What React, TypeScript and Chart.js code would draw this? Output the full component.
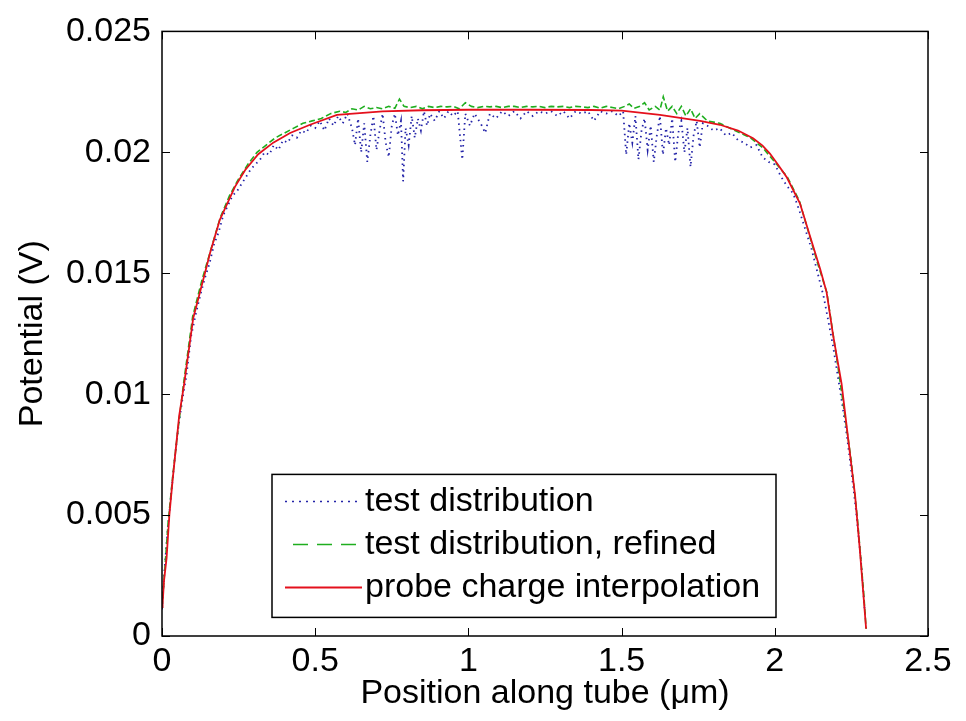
import { useEffect, useRef } from 'react';
import { Chart, registerables } from 'chart.js';

Chart.register(...registerables);

const FONT = '"Liberation Sans", Arial, Helvetica, sans-serif';

const xTickValues = [0, 0.5, 1, 1.5, 2, 2.5];
const xTickLabels = ['0', '0.5', '1', '1.5', '2', '2.5'];
const yTickValues = [0, 0.005, 0.01, 0.015, 0.02, 0.025];
const yTickLabels = ['0', '0.005', '0.01', '0.015', '0.02', '0.025'];

const seriesNames = ['test distribution', 'test distribution, refined', 'probe charge interpolation'];
const xAxisTitle = 'Position along tube (\u03BCm)';
const yAxisTitle = 'Potential (V)';

// probe charge interpolation (red)
const probeX = [0.000, 0.002, 0.0065, 0.015, 0.024, 0.035, 0.046, 0.056, 0.072, 0.102, 0.140, 0.157, 0.189, 0.238, 0.271, 0.314, 0.363, 0.418, 0.483, 0.571, 0.72, 0.85, 1.0, 1.2, 1.4, 1.50, 1.625, 1.756, 1.821, 1.880, 1.929, 1.960, 1.984, 2.010, 2.039, 2.082, 2.115, 2.148, 2.169, 2.190, 2.218, 2.245, 2.262, 2.278, 2.298];
const probeY = [0.00120, 0.00134, 0.00228, 0.00323, 0.0050, 0.0065, 0.00785, 0.0091, 0.0104, 0.01315, 0.0150, 0.01585, 0.01722, 0.01857, 0.01926, 0.01992, 0.0204, 0.0208, 0.02114, 0.02155, 0.02169, 0.02174, 0.02176, 0.02176, 0.02175, 0.02172, 0.02155, 0.02130, 0.02114, 0.02090, 0.02058, 0.02028, 0.01995, 0.01950, 0.01897, 0.01789, 0.01653, 0.01518, 0.01422, 0.01246, 0.01042, 0.00757, 0.00582, 0.0035, 0.0003];

// test distribution, refined (green)
const refinedX = [0.000, 0.010, 0.020, 0.035, 0.050, 0.070, 0.100, 0.130, 0.160, 0.190, 0.220, 0.250, 0.280, 0.310, 0.340, 0.370, 0.400, 0.430, 0.460, 0.490, 0.520, 0.550, 0.580, 0.600, 0.620, 0.640, 0.660, 0.680, 0.700, 0.720, 0.740, 0.760, 0.775, 0.790, 0.810, 0.830, 0.850, 0.870, 0.890, 0.910, 0.930, 0.950, 0.970, 0.990, 1.010, 1.030, 1.050, 1.070, 1.090, 1.110, 1.130, 1.150, 1.170, 1.190, 1.210, 1.230, 1.250, 1.270, 1.290, 1.310, 1.330, 1.350, 1.370, 1.390, 1.410, 1.430, 1.450, 1.470, 1.490, 1.510, 1.525, 1.540, 1.560, 1.575, 1.590, 1.610, 1.625, 1.636, 1.650, 1.665, 1.680, 1.695, 1.710, 1.725, 1.740, 1.755, 1.780, 1.820, 1.870, 1.920, 1.960, 2.000, 2.040, 2.080, 2.110, 2.140, 2.170, 2.190, 2.210, 2.230, 2.250, 2.270, 2.290, 2.298];
const refinedY = [0.0012, 0.0029, 0.0047, 0.0066, 0.0083, 0.0104, 0.0132, 0.0147, 0.0160, 0.0173, 0.0182, 0.0189, 0.0195, 0.0200, 0.0203, 0.0206, 0.0208, 0.0210, 0.0212, 0.0213, 0.0214, 0.0216, 0.0217, 0.02165, 0.0218, 0.02175, 0.0219, 0.0218, 0.02185, 0.0218, 0.0219, 0.02182, 0.0222, 0.0219, 0.02185, 0.0219, 0.0218, 0.0219, 0.02185, 0.0219, 0.02188, 0.0219, 0.0218, 0.02205, 0.0219, 0.02185, 0.0219, 0.02188, 0.0219, 0.02185, 0.0219, 0.0219, 0.02185, 0.0219, 0.02188, 0.0219, 0.02185, 0.0219, 0.02188, 0.0219, 0.02185, 0.0219, 0.02188, 0.02185, 0.0219, 0.02182, 0.0219, 0.02185, 0.0218, 0.0219, 0.0220, 0.02182, 0.0219, 0.02205, 0.02175, 0.0219, 0.02175, 0.0223, 0.0217, 0.0219, 0.0216, 0.0219, 0.0215, 0.0218, 0.0214, 0.0216, 0.0213, 0.0212, 0.0209, 0.0206, 0.0202, 0.0196, 0.0190, 0.0180, 0.0167, 0.0154, 0.0142, 0.0125, 0.0108, 0.0090, 0.0072, 0.0048, 0.0018, 0.0003];

// test distribution (blue, dotted)
const testX = [0.000, 0.008, 0.018, 0.030, 0.042, 0.055, 0.068, 0.080, 0.095, 0.110, 0.125, 0.140, 0.155, 0.170, 0.185, 0.200, 0.215, 0.230, 0.245, 0.260, 0.275, 0.290, 0.305, 0.320, 0.335, 0.350, 0.365, 0.380, 0.395, 0.410, 0.425, 0.440, 0.455, 0.470, 0.485, 0.500, 0.515, 0.530, 0.545, 0.560, 0.575, 0.590, 0.605, 0.620, 0.630, 0.640, 0.650, 0.660, 0.670, 0.680, 0.690, 0.700, 0.710, 0.720, 0.730, 0.740, 0.750, 0.760, 0.770, 0.780, 0.787, 0.795, 0.805, 0.815, 0.825, 0.835, 0.845, 0.855, 0.865, 0.875, 0.890, 0.905, 0.920, 0.935, 0.950, 0.965, 0.980, 0.990, 1.005, 1.020, 1.040, 1.055, 1.070, 1.090, 1.110, 1.130, 1.150, 1.170, 1.190, 1.210, 1.230, 1.250, 1.270, 1.290, 1.310, 1.330, 1.350, 1.370, 1.390, 1.410, 1.430, 1.450, 1.470, 1.490, 1.505, 1.515, 1.525, 1.535, 1.545, 1.555, 1.565, 1.575, 1.585, 1.595, 1.605, 1.615, 1.625, 1.635, 1.645, 1.655, 1.665, 1.675, 1.685, 1.695, 1.705, 1.715, 1.725, 1.735, 1.745, 1.755, 1.765, 1.780, 1.800, 1.820, 1.840, 1.860, 1.880, 1.900, 1.920, 1.940, 1.960, 1.980, 2.000, 2.020, 2.040, 2.060, 2.080, 2.100, 2.120, 2.140, 2.160, 2.175, 2.190, 2.205, 2.220, 2.235, 2.250, 2.265, 2.280, 2.295];
const testY = [0.0011, 0.0027, 0.0043, 0.0059, 0.0074, 0.0088, 0.0099, 0.0108, 0.0124, 0.0133, 0.0141, 0.0148, 0.0154, 0.0162, 0.0167, 0.0174, 0.0178, 0.0182, 0.0184, 0.0187, 0.0190, 0.0193, 0.0195, 0.0197, 0.0200, 0.0199, 0.0203, 0.0201, 0.0205, 0.0204, 0.0207, 0.0206, 0.0209, 0.0208, 0.0211, 0.0210, 0.0213, 0.0209, 0.0214, 0.0211, 0.0215, 0.0212, 0.0216, 0.0210, 0.0203, 0.0214, 0.0200, 0.0212, 0.0196, 0.0207, 0.0215, 0.0201, 0.0209, 0.0216, 0.0204, 0.0198, 0.0211, 0.0216, 0.0207, 0.0213, 0.0188, 0.0210, 0.0203, 0.0215, 0.0206, 0.0214, 0.0209, 0.0217, 0.0211, 0.0216, 0.0213, 0.0217, 0.0214, 0.0217, 0.0215, 0.0217, 0.0197, 0.0216, 0.0211, 0.0216, 0.0212, 0.0208, 0.0216, 0.0214, 0.0217, 0.0215, 0.0217, 0.0214, 0.0217, 0.0215, 0.0217, 0.0216, 0.0217, 0.0215, 0.0217, 0.0214, 0.0217, 0.0216, 0.0217, 0.0213, 0.0217, 0.0216, 0.0217, 0.0215, 0.0217, 0.0199, 0.0212, 0.0204, 0.0215, 0.0197, 0.0209, 0.0214, 0.0201, 0.0211, 0.0196, 0.0207, 0.0215, 0.0199, 0.0210, 0.0203, 0.0214, 0.0196, 0.0208, 0.0213, 0.0200, 0.0210, 0.0194, 0.0207, 0.0213, 0.0202, 0.0212, 0.0211, 0.0209, 0.0210, 0.0207, 0.0208, 0.0205, 0.0204, 0.0202, 0.0203, 0.0198, 0.0196, 0.0195, 0.0190, 0.0186, 0.0183, 0.0176, 0.0168, 0.0160, 0.0150, 0.0140, 0.0130, 0.0120, 0.0108, 0.0096, 0.0083, 0.0068, 0.0052, 0.0033, 0.0008];

const BLUE = '#2323a8';
const GREEN = '#1fae1f';
const RED = '#e4101c';

const toPoints = (xs: number[], ys: number[]) => xs.map((x, i) => ({ x, y: ys[i] }));

const frameAndTicks = {
  id: 'frameAndTicks',
  afterDatasetsDraw(chart: any) {
    const { ctx, chartArea: ca, scales } = chart;
    const len = 8;
    ctx.save();
    ctx.strokeStyle = '#000';
    ctx.lineWidth = 1;
    ctx.beginPath();
    xTickValues.forEach((v) => {
      const px = Math.round(scales.x.getPixelForValue(v)) + 0.5;
      ctx.moveTo(px, ca.bottom);
      ctx.lineTo(px, ca.bottom - len);
      ctx.moveTo(px, ca.top);
      ctx.lineTo(px, ca.top + len);
    });
    yTickValues.forEach((v) => {
      const py = Math.round(scales.y.getPixelForValue(v)) + 0.5;
      ctx.moveTo(ca.left, py);
      ctx.lineTo(ca.left + len, py);
      ctx.moveTo(ca.right, py);
      ctx.lineTo(ca.right - len, py);
    });
    ctx.stroke();
    ctx.lineWidth = 1.5;
    ctx.strokeRect(ca.left, ca.top, ca.right - ca.left, ca.bottom - ca.top);
    ctx.restore();
  },
};

const boxLegend = {
  id: 'boxLegend',
  afterDraw(chart: any) {
    const { ctx, chartArea: ca } = chart;
    const bx = ca.left + 110;
    const by = ca.top + 443;
    const bw = 504;
    const bh = 143;
    ctx.save();
    ctx.fillStyle = '#fff';
    ctx.fillRect(bx, by, bw, bh);
    ctx.strokeStyle = '#000';
    ctx.lineWidth = 1.5;
    ctx.strokeRect(bx, by, bw, bh);
    const rows = [
      { color: BLUE, dash: [2, 5], x0: bx + 13, y: by + 27, w: 1.5 },
      { color: GREEN, dash: [15, 9], x0: bx + 21, y: by + 70, w: 1.5 },
      { color: RED, dash: [], x0: bx + 13, y: by + 113, w: 2 },
    ];
    rows.forEach((r, i) => {
      ctx.beginPath();
      ctx.setLineDash(r.dash);
      ctx.strokeStyle = r.color;
      ctx.lineWidth = r.w;
      ctx.moveTo(r.x0, r.y);
      ctx.lineTo(bx + 90, r.y);
      ctx.stroke();
      ctx.setLineDash([]);
      ctx.fillStyle = '#000';
      ctx.font = `34px ${FONT}`;
      ctx.textAlign = 'left';
      ctx.textBaseline = 'middle';
      ctx.fillText(seriesNames[i], bx + 93, r.y);
    });
    ctx.restore();
  },
};

export default function App() {
  const ref = useRef<HTMLCanvasElement | null>(null);

  useEffect(() => {
    if (!ref.current) return;
    const chart = new Chart(ref.current, {
      type: 'line',
      data: {
        datasets: [
          {
            label: seriesNames[0],
            data: toPoints(testX, testY),
            borderColor: BLUE,
            borderWidth: 1.8,
            borderDash: [1.5, 4],
            pointRadius: 0,
            fill: false,
            order: 3,
          },
          {
            label: seriesNames[1],
            data: toPoints(refinedX, refinedY),
            borderColor: GREEN,
            borderWidth: 1.6,
            borderDash: [6, 3],
            pointRadius: 0,
            fill: false,
            order: 2,
          },
          {
            label: seriesNames[2],
            data: toPoints(probeX, probeY),
            borderColor: RED,
            borderWidth: 1.8,
            pointRadius: 0,
            fill: false,
            order: 1,
          },
        ],
      },
      options: {
        animation: false,
        responsive: true,
        maintainAspectRatio: false,
        devicePixelRatio: 1,
        layout: { padding: { top: 21, right: 38, left: 0, bottom: 0 } },
        plugins: { legend: { display: false }, tooltip: { enabled: false } },
        scales: {
          x: {
            type: 'linear',
            min: 0,
            max: 2.5,
            grid: { display: false, drawTicks: false },
            border: { display: false },
            afterBuildTicks: (scale: any) => {
              scale.ticks = xTickValues.map((v) => ({ value: v }));
            },
            afterFit: (scale: any) => {
              scale.height = 85;
            },
            ticks: {
              padding: 5,
              color: '#000',
              maxRotation: 0,
              autoSkip: false,
              font: { family: FONT, size: 34 },
              callback: (v: any) => {
                const i = xTickValues.findIndex((t) => Math.abs(t - Number(v)) < 1e-9);
                return i >= 0 ? xTickLabels[i] : '';
              },
            },
            title: {
              display: true,
              text: xAxisTitle,
              color: '#000',
              font: { family: FONT, size: 34 },
              padding: { top: 0, bottom: 7 },
            },
          },
          y: {
            type: 'linear',
            min: 0,
            max: 0.025,
            grid: { display: false, drawTicks: false },
            border: { display: false },
            afterBuildTicks: (scale: any) => {
              scale.ticks = yTickValues.map((v) => ({ value: v }));
            },
            afterFit: (scale: any) => {
              scale.width = 162;
            },
            ticks: {
              padding: 11,
              color: '#000',
              autoSkip: false,
              font: { family: FONT, size: 34 },
              callback: (v: any) => {
                const i = yTickValues.findIndex((t) => Math.abs(t - Number(v)) < 1e-9);
                return i >= 0 ? yTickLabels[i] : '';
              },
            },
            title: {
              display: true,
              text: yAxisTitle,
              color: '#000',
              font: { family: FONT, size: 34 },
              padding: { top: 12, bottom: 0 },
            },
          },
        },
      },
      plugins: [frameAndTicks, boxLegend],
    });
    return () => chart.destroy();
  }, []);

  return (
    <div style={{ position: 'absolute', left: 0, top: 0, width: 966, height: 721, background: '#fff' }}>
      <canvas ref={ref} />
    </div>
  );
}
